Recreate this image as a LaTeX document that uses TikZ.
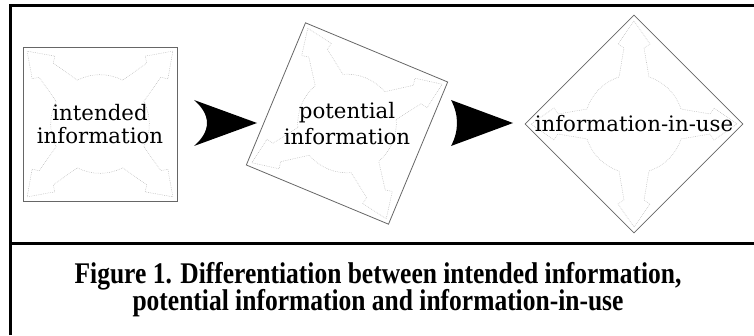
\documentclass[tikz,border=0pt]{standalone}
\usepackage{fontspec}
\setmainfont{DejaVu Serif}
\newfontfamily\capfont{Liberation Serif}[FakeStretch=0.85]

\tikzset{
  frame/.style={line width=3pt},
  infobox/.style={draw=black!60, line width=0.8pt},
  infodeco/.style={draw=black!28, line width=0.5pt, dash pattern=on 0.7pt off 1.1pt},
  infolabel/.style={font=\fontsize{21.3}{22.5}\selectfont, align=center, inner sep=0pt},
  caption/.style={font=\capfont\bfseries\fontsize{30}{26.5}\selectfont, anchor=base, inner sep=0pt}
}

% square with the faint four-arrow figure, #1 = centre, #2 = angle
\newcommand{\infosquare}[2]{%
  \begin{scope}[shift={(#1)}, rotate=#2]
    \draw[infobox] (-77,-77) rectangle (77,77);
    \foreach \a in {45,135,225,315}
      \draw[infodeco, rotate=\a] (-17.7:49.3) -- (76,-10) -- (80,-16) -- (103,0) -- (80,16) -- (76,10) -- (17.7:49.3) arc[start angle=17.7, end angle=72.3, radius=49.3];
  \end{scope}}

\begin{document}
\begin{tikzpicture}[x=1pt,y=1pt]
  \useasboundingbox (0,0) rectangle (754,335);

  % frame
  \draw[frame] (10,0) -- (10,329) -- (754,329);
  \draw[frame] (10,92) -- (754,92);

  \coordinate (c1) at (100,211);
  \coordinate (c2) at (347,211.5);
  \coordinate (c3) at (634,211);

  \infosquare{c1}{0}
  \infosquare{c2}{-22.6}
  \infosquare{c3}{45}

  \node[infolabel] (intended) at (c1) {intended\\information};
  \node[infolabel, font=\fontsize{21.3}{25.5}\selectfont] (potential) at (c2) {potential\\information};
  \node[infolabel] (inuse) at (c3) {information-in-use};

  % big arrow heads
  \coordinate (a1) at (194,212);
  \coordinate (a2) at (451,212);
  \fill[shift={(a1)}] (0,23) -- (63,0) -- (0,-23) .. controls (17.3,-8) and (17.3,8) .. (0,23) -- cycle;
  \fill[shift={(a2)}] (0,23) -- (62,0) -- (0,-23) .. controls (8,-8) and (8,8) .. (0,23) -- cycle;

  \node[caption] (cap1) at (378,52) {Figure 1. Differentiation between intended information,};
  \node[caption] (cap2) at (378,25) {potential information and information-in-use};
\end{tikzpicture}
\end{document}
